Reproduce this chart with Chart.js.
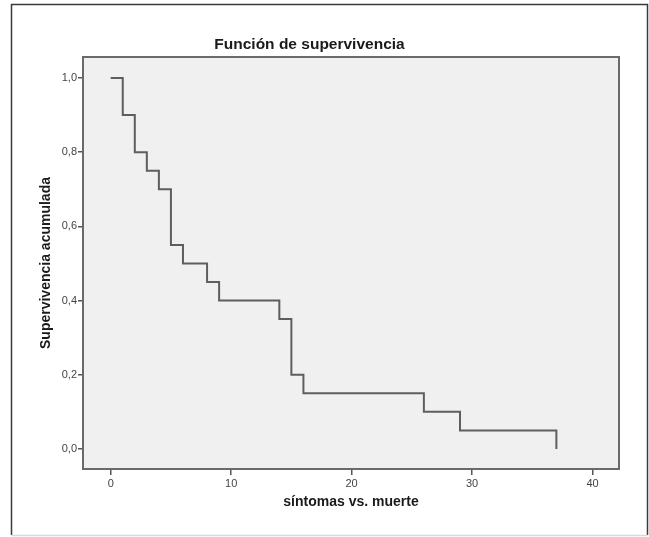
<!DOCTYPE html>
<html>
<head>
<meta charset="utf-8">
<script src="https://cdn.jsdelivr.net/npm/chart.js@4"></script>
<style>
  html, body { margin: 0; padding: 0; background: #fff; }
  canvas { display: block; }
</style>
</head>
<body>
<canvas id="chart" width="649" height="537"></canvas>
<script>
// --- data ---
const times = [0, 1, 2, 3, 4, 5, 6, 8, 9, 14, 15, 16, 26, 29, 37];
const survival = [1.0, 0.9, 0.8, 0.75, 0.7, 0.55, 0.5, 0.45, 0.4, 0.35, 0.2, 0.15, 0.1, 0.05, 0.0];
const xTicks = [0, 10, 20, 30, 40];
const yTicks = [0, 0.2, 0.4, 0.6, 0.8, 1.0];

const FONT = '"Liberation Sans", Arial, sans-serif';

// frame around whole figure + grey plot panel
const panelPlugin = {
  id: 'panel',
  beforeDraw(chart) {
    const { ctx, chartArea: a } = chart;
    ctx.save();
    ctx.fillStyle = '#fff';
    ctx.fillRect(0, 0, chart.width, chart.height);
    ctx.strokeStyle = '#3a3a3a';
    ctx.lineWidth = 1.5;
    ctx.beginPath();
    ctx.moveTo(11.5, 535);
    ctx.lineTo(11.5, 4.5);
    ctx.lineTo(647.5, 4.5);
    ctx.lineTo(647.5, 535);
    ctx.stroke();
    ctx.strokeStyle = '#d8d8d8';
    ctx.beginPath();
    ctx.moveTo(11.5, 535.5);
    ctx.lineTo(647.5, 535.5);
    ctx.stroke();
    ctx.fillStyle = '#f0f0f0';
    ctx.fillRect(a.left, a.top, a.right - a.left, a.bottom - a.top);
    ctx.restore();
  },
  afterDatasetsDraw(chart) {
    const { ctx, chartArea: a } = chart;
    ctx.save();
    ctx.strokeStyle = '#6a6a6a';
    ctx.lineWidth = 2;
    ctx.strokeRect(a.left, a.top, a.right - a.left, a.bottom - a.top);
    ctx.restore();
  }
};

const ctx = document.getElementById('chart').getContext('2d');
new Chart(ctx, {
  type: 'line',
  data: {
    datasets: [{
      data: times.map((t, i) => ({ x: t, y: survival[i] })),
      stepped: 'before',
      borderColor: '#5e5e5e',
      borderWidth: 2,
      pointRadius: 0,
      fill: false
    }]
  },
  options: {
    responsive: false,
    animation: false,
    devicePixelRatio: 1,
    layout: { padding: { left: 0, right: 30, top: 0, bottom: 0 } },
    plugins: {
      legend: { display: false },
      tooltip: { enabled: false },
      title: {
        display: true,
        text: 'Función de supervivencia',
        color: '#1a1a1a',
        font: { family: FONT, size: 15.5, weight: 'bold', lineHeight: 1.2 },
        padding: { top: 35, bottom: 3.4 }
      }
    },
    scales: {
      x: {
        type: 'linear',
        min: -2.3,
        max: 42.2,
        afterBuildTicks: s => { s.ticks = xTicks.map(v => ({ value: v })); },
        afterFit: s => { s.height = 68; },
        grid: { drawOnChartArea: false, drawTicks: true, tickLength: 6, color: '#555', lineWidth: 1.5 },
        border: { display: false },
        ticks: { color: '#444', font: { family: FONT, size: 11 }, padding: 2, maxRotation: 0 },
        title: {
          display: true,
          text: 'síntomas vs. muerte',
          color: '#1a1a1a',
          font: { family: FONT, size: 14, weight: 'bold', lineHeight: 1.2 },
          padding: { top: 0, bottom: 26 }
        }
      },
      y: {
        type: 'linear',
        min: -0.054,
        max: 1.0565,
        afterBuildTicks: s => { s.ticks = yTicks.map(v => ({ value: v })); },
        afterFit: s => { s.width = 83; },
        grid: { drawOnChartArea: false, drawTicks: true, tickLength: 5, color: '#555', lineWidth: 1.5 },
        border: { display: false },
        ticks: {
          color: '#444',
          font: { family: FONT, size: 11 },
          padding: 1,
          callback: v => v.toFixed(1).replace('.', ',')
        },
        title: {
          display: true,
          text: 'Supervivencia acumulada',
          color: '#1a1a1a',
          font: { family: FONT, size: 14, weight: 'bold', lineHeight: 1.2 },
          padding: { top: 38, bottom: 0 }
        }
      }
    }
  },
  plugins: [panelPlugin]
});
</script>
</body>
</html>
